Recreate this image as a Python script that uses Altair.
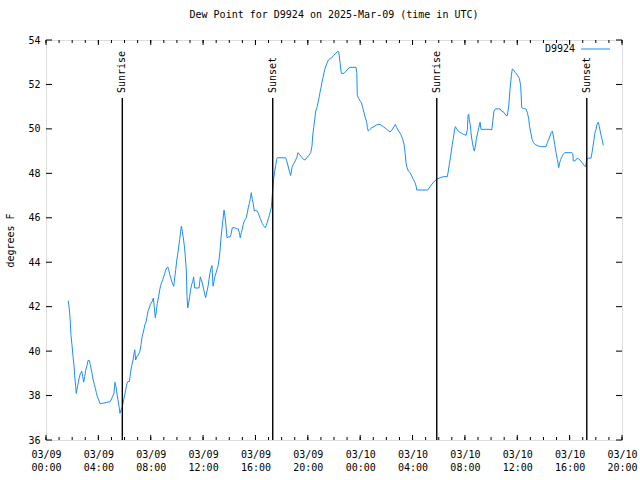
import altair as alt
import pandas as pd
from datetime import datetime, timezone, timedelta

# ---- data (hours after 2025-03-09 00:00 UTC, dew point in F) ----
hours = [1.70, 1.78, 1.86, 1.91, 1.99, 2.06, 2.14, 2.19, 2.27, 2.31, 2.39, 2.47, 2.54, 2.62, 2.73, 2.80,
         2.88, 2.96, 3.03, 3.13, 3.21, 3.31, 3.38, 3.46, 3.54, 3.61, 3.69, 3.77, 3.84, 3.92, 4.03, 4.13,
         4.38, 4.64, 4.89, 4.97, 5.04, 5.12, 5.19, 5.27, 5.35, 5.42, 5.50, 5.58, 5.65, 5.73, 5.81, 5.88,
         5.96, 6.04, 6.11, 6.19, 6.26, 6.36, 6.42, 6.49, 6.57, 6.65, 6.72, 6.78, 6.85, 6.93, 7.03, 7.10,
         7.18, 7.26, 7.33, 7.41, 7.49, 7.56, 7.64, 7.72, 7.79, 7.89, 7.97, 8.12, 8.20, 8.27, 8.35, 8.43,
         8.50, 8.61, 8.69, 8.76, 8.84, 8.92, 8.99, 9.07, 9.14, 9.22, 9.30, 9.37, 9.45, 9.53, 9.60, 9.68,
         9.76, 9.83, 9.91, 9.98, 10.06, 10.14, 10.21, 10.29, 10.34, 10.41, 10.49, 10.57, 10.64, 10.72,
         10.77, 10.83, 10.90, 10.98, 11.05, 11.13, 11.21, 11.28, 11.36, 11.69, 11.79, 11.86, 11.94, 12.02,
         12.19, 12.38, 12.45, 12.53, 12.61, 12.68, 12.76, 12.83, 12.91, 12.99, 13.06, 13.14, 13.22, 13.29,
         13.37, 13.45, 13.52, 13.60, 13.67, 13.75, 13.83, 13.93, 14.06, 14.13, 14.23, 14.44, 14.57, 14.69,
         14.77, 14.84, 14.92, 15.00, 15.07, 15.15, 15.23, 15.30, 15.38, 15.45, 15.53, 15.61, 15.68, 15.76,
         15.84, 15.91, 16.02, 16.14, 16.22, 16.30, 16.37, 16.45, 16.52, 16.60, 16.68, 16.75, 16.83, 16.91,
         16.98, 17.06, 17.14, 17.21, 17.27, 17.32, 17.39, 17.47, 17.55, 17.62, 17.67, 18.31, 18.39, 18.49,
         18.59, 18.69, 18.79, 18.89, 19.04, 19.15, 19.25, 19.35, 19.50, 19.66, 19.79, 19.92, 20.07, 20.22,
         20.32, 20.37, 20.45, 20.53, 20.60, 20.70, 20.78, 20.86, 20.93, 21.01, 21.08, 21.16, 21.24, 21.31,
         21.39, 21.47, 21.57, 21.70, 21.83, 21.95, 22.10, 22.25, 22.36, 22.46, 22.56, 22.77, 22.92, 23.07,
         23.22, 23.68, 23.74, 23.78, 23.89, 23.99, 24.09, 24.19, 24.29, 24.39, 24.50, 24.55, 24.62, 24.75,
         24.90, 25.06, 25.21, 25.39, 25.52, 25.77, 26.03, 26.28, 26.43, 26.59, 26.68, 26.79, 26.94, 27.10,
         27.25, 27.35, 27.43, 27.50, 27.58, 27.68, 27.81, 27.94, 28.06, 28.19, 28.27, 28.32, 29.16, 29.34,
         29.59, 29.85, 30.10, 30.35, 30.66, 30.73, 30.81, 30.89, 30.96, 31.04, 31.12, 31.19, 31.27, 31.37,
         31.50, 31.63, 31.76, 31.88, 32.09, 32.19, 32.24, 32.29, 32.34, 32.41, 32.49, 32.57, 32.64, 32.72,
         32.80, 32.87, 32.98, 33.06, 33.16, 33.23, 33.92, 34.05, 34.22, 34.32, 34.68, 34.81, 34.99, 35.14,
         35.24, 35.35, 35.45, 35.55, 35.62, 35.70, 35.85, 36.01, 36.16, 36.26, 36.34, 36.46, 36.65, 36.77,
         36.88, 36.93, 37.03, 37.13, 37.23, 37.36, 37.61, 37.79, 38.20, 38.30, 38.40, 38.50, 38.60, 38.68,
         38.76, 38.86, 38.96, 39.06, 39.17, 39.24, 39.32, 39.42, 39.52, 39.63, 40.16, 40.24, 40.28, 40.41,
         40.54, 40.66, 40.79, 40.95, 41.10, 41.23, 41.31, 41.43, 41.63, 41.71, 41.79, 41.86, 41.94, 42.02,
         42.09, 42.19, 42.27, 42.38, 42.48, 42.57]
dewpoint = [42.27, 41.9, 41.3, 40.7, 40.24, 39.8, 39.34, 38.9, 38.4, 38.1, 38.35, 38.6, 38.8, 38.98, 39.1, 38.86,
            38.6, 38.86, 39.13, 39.35, 39.58, 39.58, 39.4, 39.16, 38.93, 38.7, 38.5, 38.33, 38.14, 37.96, 37.8, 37.63,
            37.66, 37.69, 37.72, 37.8, 37.9, 38.0, 38.1, 38.6, 38.4, 38.1, 37.8, 37.5, 37.2, 37.35, 37.44, 37.66,
            37.88, 38.1, 38.33, 38.55, 38.63, 38.63, 38.86, 39.16, 39.4, 39.6, 39.88, 40.06, 39.6, 39.76, 39.8, 39.9,
            40.0, 40.3, 40.6, 40.8, 41.0, 41.2, 41.3, 41.56, 41.8, 41.94, 42.1, 42.24, 42.39, 42.0, 41.5, 41.8,
            42.14, 42.47, 42.77, 42.95, 43.1, 43.22, 43.34, 43.49, 43.64, 43.74, 43.79, 43.67, 43.45, 43.3, 43.14, 43.0,
            42.92, 43.3, 43.67, 44.05, 44.35, 44.72, 45.02, 45.4, 45.62, 45.4, 45.1, 44.72, 44.27, 43.6,
            42.47, 41.94, 42.17, 42.47, 42.77, 43.0, 43.14, 43.34, 42.84, 42.84, 43.34, 43.22, 43.07, 42.84,
            42.4, 42.92, 43.22, 43.52, 43.74, 43.85, 42.92, 43.14, 43.37, 43.52, 43.67, 43.82, 44.12, 44.5,
            45.1, 45.55, 45.93, 46.35, 46.08, 45.63, 45.1, 45.14, 45.14, 45.25, 45.55, 45.55, 45.5, 45.5,
            45.33, 45.1, 45.33, 45.5, 45.7, 45.85, 45.93, 46.0, 46.22, 46.45, 46.65, 46.86, 47.13, 46.83,
            46.6, 46.3, 46.33, 46.3, 46.2, 46.08, 45.96, 45.85, 45.75, 45.66, 45.6, 45.55, 45.66, 45.8,
            45.96, 46.1, 46.3, 46.45, 46.9, 47.28, 47.73, 48.1, 48.36, 48.63, 48.7, 48.7, 48.56, 48.33,
            48.1, 47.9, 48.26, 48.4, 48.56, 48.7, 48.93, 48.86, 48.75, 48.63, 48.6, 48.7, 48.8, 48.93,
            49.23, 49.68, 50.06, 50.44, 50.8, 50.96, 51.19, 51.4, 51.64, 51.87, 52.1, 52.3, 52.54, 52.7,
            52.84, 52.96, 53.1, 53.17, 53.2, 53.3, 53.37, 53.47, 53.47, 53.0, 52.5, 52.5, 52.6, 52.7,
            52.77, 52.77, 52.54, 51.5, 51.37, 51.26, 51.2, 50.96, 50.74, 50.5, 50.3, 50.06, 49.9, 49.98,
            50.06, 50.1, 50.17, 50.2, 50.2, 50.1, 49.98, 49.86, 49.95, 50.1, 50.2, 50.06, 49.9, 49.76,
            49.53, 49.3, 48.93, 48.48, 48.26, 48.1, 48.03, 47.88, 47.73, 47.58, 47.43, 47.25, 47.25, 47.4,
            47.6, 47.73, 47.8, 47.85, 47.85, 48.1, 48.4, 48.7, 49.0, 49.3, 49.6, 49.9, 50.1, 50.0,
            49.9, 49.84, 49.8, 49.76, 49.71, 49.98, 50.6, 50.66, 50.36, 50.2, 49.68, 49.4, 49.16, 49.0,
            49.23, 49.53, 49.84, 50.06, 50.3, 49.98, 49.98, 49.95, 50.8, 50.9, 50.9, 50.8, 50.74, 50.6,
            50.6, 51.04, 51.8, 52.4, 52.7, 52.66, 52.54, 52.42, 52.27, 51.94, 50.96, 50.92, 50.9, 50.74,
            50.44, 50.14, 49.84, 49.53, 49.39, 49.3, 49.23, 49.2, 49.2, 49.39, 49.53, 49.68, 49.84, 49.9,
            49.68, 49.3, 48.93, 48.63, 48.26, 48.48, 48.63, 48.75, 48.86, 48.93, 48.93, 48.9, 48.56, 48.56,
            48.66, 48.66, 48.6, 48.48, 48.36, 48.3, 48.63, 48.68, 48.68, 48.93, 49.23, 49.53, 49.84, 49.98,
            50.2, 50.3, 50.1, 49.76, 49.53, 49.26]

sun_hours = [5.83, 17.32, 29.85, 41.31]
sun_labels = ["Sunrise", "Sunset", "Sunrise", "Sunset"]

y_ticks = [36, 38, 40, 42, 44, 46, 48, 50, 52, 54]
major_tick_hours = [0, 4, 8, 12, 16, 20, 24, 28, 32, 36, 40, 44]
minor_tick_hours = list(range(0, 45))

title_text = "Dew Point for D9924 on 2025-Mar-09 (time in UTC)"
series_name = "D9924"

# ---- helpers ----
BASE = datetime(2025, 3, 9, tzinfo=timezone.utc)


def iso(h):
    return (BASE + timedelta(hours=h)).strftime("%Y-%m-%dT%H:%M:%S") + "Z"


def ms(h):
    return int((BASE + timedelta(hours=h)).timestamp() * 1000)


FONT = "DejaVu Sans Mono"
BLUE = "#1a8cff"
W, H = 576, 400

line_df = pd.DataFrame({"t": [iso(h) for h in hours], "v": dewpoint})
sun_df = pd.DataFrame({"t": [iso(h) for h in sun_hours], "label": sun_labels})
major_df = pd.DataFrame({"t": [iso(h) for h in major_tick_hours]})
minor_df = pd.DataFrame({"t": [iso(h) for h in minor_tick_hours]})
ytick_df = pd.DataFrame({"v": y_ticks})

xscale = alt.Scale(type="utc", domain=[ms(0), ms(44)], nice=False)
yscale = alt.Scale(domain=[36, 54], nice=False, zero=False)

x_axis = alt.Axis(
    values=[ms(h) for h in major_tick_hours],
    labelExpr="[utcFormat(datum.value, '%m/%d'), utcFormat(datum.value, '%H:%M')]",
    tickSize=0, domain=False, grid=False, labelPadding=9, labelLineHeight=13,
    labelFont=FONT, labelFontSize=10, labelColor="black", title=None,
    labelOverlap=False, labelFlush=False, labelBaseline="top",
)
y_axis = alt.Axis(
    values=y_ticks, tickSize=0, domain=False, grid=False, labelPadding=6,
    labelFont=FONT, labelFontSize=10, labelColor="black",
    title="degrees F", titleFont=FONT, titleFontSize=10, titleFontWeight="normal",
    titleColor="black", titleAngle=270, titleX=-36, titleY=200,
    titleAlign="center", titleBaseline="middle",
)

X = alt.X("t:T", scale=xscale, axis=x_axis)
Y = alt.Y("v:Q", scale=yscale, axis=y_axis)

line = alt.Chart(line_df).mark_line(color=BLUE, strokeWidth=1, interpolate="linear").encode(
    x=X, y=Y,
)

sun_rule = alt.Chart(sun_df).mark_rule(color="black", strokeWidth=1.4).encode(
    x=X, y=alt.value(58), y2=alt.value(H),
)
sun_text = alt.Chart(sun_df).mark_text(
    angle=270, align="left", baseline="middle", font=FONT, fontSize=10, color="black"
).encode(
    x=X, y=alt.value(53), text="label:N",
)

bottom_major = alt.Chart(major_df).mark_rule(color="black", strokeWidth=1).encode(
    x=X, y=alt.value(H), y2=alt.value(H - 5))
bottom_minor = alt.Chart(minor_df).mark_rule(color="black", strokeWidth=1).encode(
    x=X, y=alt.value(H), y2=alt.value(H - 3))
top_major = alt.Chart(major_df).mark_rule(color="black", strokeWidth=1).encode(
    x=X, y=alt.value(0), y2=alt.value(5))
top_minor = alt.Chart(minor_df).mark_rule(color="black", strokeWidth=1).encode(
    x=X, y=alt.value(0), y2=alt.value(3))
left_ticks = alt.Chart(ytick_df).mark_rule(color="black", strokeWidth=1).encode(
    y=Y, x=alt.value(0), x2=alt.value(6))
right_ticks = alt.Chart(ytick_df).mark_rule(color="black", strokeWidth=1).encode(
    y=Y, x=alt.value(W), x2=alt.value(W - 6))

legend_text = alt.Chart(pd.DataFrame({"name": [series_name]})).mark_text(
    align="right", baseline="middle", font=FONT, fontSize=10, color="black"
).encode(x=alt.value(529), y=alt.value(9), text="name:N")
legend_line = alt.Chart(pd.DataFrame({"name": [series_name]})).mark_rule(
    color=BLUE, strokeWidth=1
).encode(x=alt.value(535), x2=alt.value(564), y=alt.value(9))

chart = alt.layer(
    line, bottom_minor, bottom_major, top_minor, top_major, left_ticks, right_ticks,
    sun_rule, sun_text, legend_text, legend_line,
).properties(
    width=W, height=H,
    title=alt.TitleParams(title_text, font=FONT, fontSize=10, fontWeight="normal",
                          color="black", anchor="middle", offset=15),
    autosize=alt.AutoSizeParams(type="none"),
    padding={"left": 46, "top": 40, "right": 18, "bottom": 40},
).configure_view(
    stroke="black", strokeWidth=1
).configure(background="white")

chart.save("out.html", embed_options={"renderer": "svg", "actions": False})
